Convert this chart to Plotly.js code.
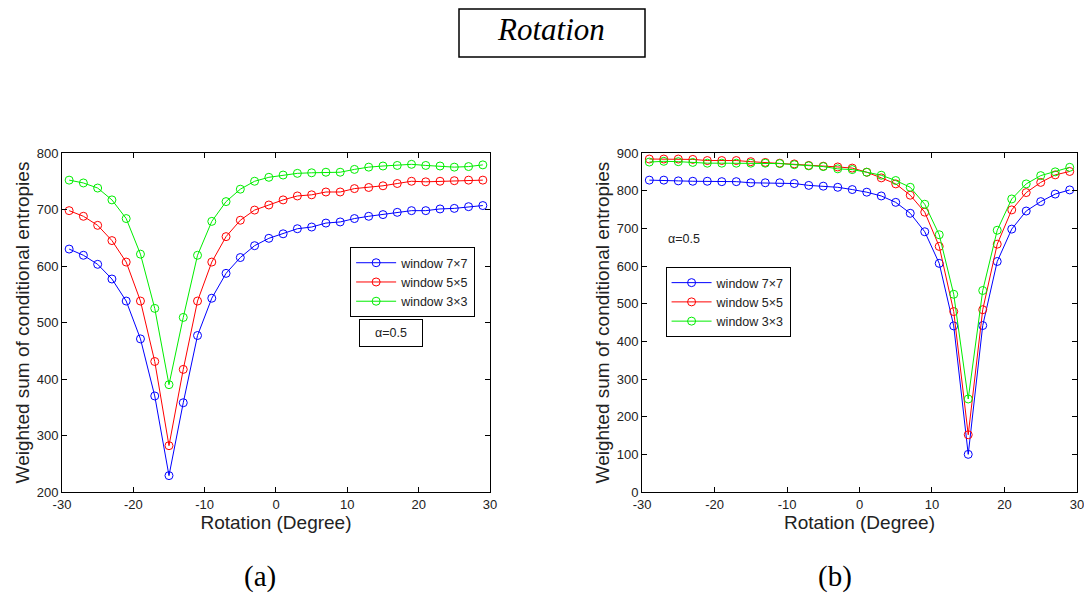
<!DOCTYPE html>
<html>
<head>
<meta charset="utf-8">
<script src="https://cdn.plot.ly/plotly-3.0.1.min.js"></script>
<style>html,body{margin:0;padding:0;background:#fff;}#chart{width:1084px;height:594px;}</style>
</head>
<body>
<div id="chart"></div>
<script>
const angles = [-29,-27,-25,-23,-21,-19,-17,-15,-13,-11,-9,-7,-5,-3,-1,1,3,5,7,9,11,13,15,17,19,21,23,25,27,29];
const seriesNames = ['window 7\u00d77','window 5\u00d75','window 3\u00d73'];
const seriesColors = ['#0000ff','#ff0000','#00ee00'];

// (a) left panel
const a_w7 = [630,619,603,577,538,471,370,229,358,477,543,587,615,636,649,657,666,669,676,678,684,688,691,695,698,698,701,702,705,707];
const a_w5 = [698,688,672,645,607,538,431,282,417,538,607,652,681,699,708,717,724,726,731,731,737,739,742,746,750,749,750,751,752,752];
const a_w3 = [752,747,738,717,684,621,525,390,509,619,679,714,736,750,757,761,764,765,766,766,771,775,777,778,780,778,777,775,776,779];

// (b) right panel
const b_w7 = [828,828,826,825,825,824,824,821,821,821,819,814,812,809,803,796,786,769,740,691,607,441,100,442,612,698,746,771,791,802];
const b_w5 = [884,884,884,883,880,880,880,877,875,873,871,867,865,863,860,849,834,818,788,743,652,479,152,484,658,749,795,822,842,851];
const b_w3 = [876,878,877,875,873,873,873,873,873,872,869,866,864,858,856,849,841,827,809,764,683,525,247,535,695,778,818,840,850,862];

const xTicks = [-30,-20,-10,0,10,20,30];
const xTickText = ['-30','-20','-10','0','10','20','30'];
const aYTicks = [200,300,400,500,600,700,800];
const bYTicks = [0,100,200,300,400,500,600,700,800,900];

const sans = 'Liberation Sans, Arial, sans-serif';
const serif = 'Liberation Serif, Times New Roman, serif';

function mk(y, i, xa, ya, leg) {
  return {
    x: angles, y: y, xaxis: xa, yaxis: ya, legend: leg,
    type: 'scatter', mode: 'lines+markers', name: seriesNames[i],
    line: {color: seriesColors[i], width: 1},
    marker: {symbol: 'circle-open', size: 8, color: seriesColors[i], line: {width: 1, color: seriesColors[i]}}
  };
}

const data = [
  mk(a_w7,0,'x','y','legend'), mk(a_w5,1,'x','y','legend'), mk(a_w3,2,'x','y','legend'),
  mk(b_w7,0,'x2','y2','legend2'), mk(b_w5,1,'x2','y2','legend2'), mk(b_w3,2,'x2','y2','legend2')
];

function xaxis(dom, anchor) {
  return {
    domain: dom, anchor: anchor, range: [-30, 30], tickvals: xTicks, ticktext: xTickText,
    ticks: 'inside', ticklen: 5, tickcolor: '#000', mirror: 'ticks',
    showline: true, linecolor: '#000', linewidth: 1, showgrid: false, zeroline: false,
    ticklabeloverflow: 'allow',
    tickfont: {family: sans, size: 13, color: '#222'},
    title: {text: 'Rotation (Degree)', font: {family: sans, size: 19, color: '#222'}, standoff: 2}
  };
}
function yaxis(dom, anchor, rng, tv) {
  return {
    domain: dom, anchor: anchor, range: rng, tickvals: tv,
    ticks: 'inside', ticklen: 5, tickcolor: '#000', mirror: 'ticks',
    showline: true, linecolor: '#000', linewidth: 1, showgrid: false, zeroline: false,
    ticklabeloverflow: 'allow',
    tickfont: {family: sans, size: 13, color: '#222'},
    title: {text: 'Weighted sum of conditional entropies', font: {family: sans, size: 19, color: '#222'}, standoff: 2}
  };
}

const yDom = [0.1717, 0.7424];
const layout = {
  width: 1084, height: 594,
  margin: {l: 0, r: 0, t: 0, b: 0},
  paper_bgcolor: '#fff', plot_bgcolor: '#fff',
  showlegend: true,
  xaxis: xaxis([0.0572, 0.4520], 'y'),
  yaxis: yaxis(yDom, 'x', [200, 800], aYTicks),
  xaxis2: xaxis([0.5923, 0.9935], 'y2'),
  yaxis2: yaxis(yDom, 'x2', [0, 900], bYTicks),
  legend: {x: 0.323, y: 0.584, xanchor: 'left', yanchor: 'top', bgcolor: '#fff',
    bordercolor: '#000', borderwidth: 1, font: {family: sans, size: 12.5, color: '#222'},
    itemwidth: 40, tracegroupgap: 0},
  legend2: {x: 0.614, y: 0.5505, xanchor: 'left', yanchor: 'top', bgcolor: '#fff',
    bordercolor: '#000', borderwidth: 1, font: {family: sans, size: 12.5, color: '#222'},
    itemwidth: 40, tracegroupgap: 0},
  shapes: [
    {type: 'rect', xref: 'paper', yref: 'paper', x0: 459/1084, x1: 645/1084, y0: 1 - 57/594, y1: 1 - 9/594,
     line: {color: '#000', width: 1.5}, fillcolor: 'rgba(0,0,0,0)'}
  ],
  annotations: [
    {text: '<i>Rotation</i>', xref: 'paper', yref: 'paper', x: 551/1084, y: 1 - 30/594, showarrow: false,
     xanchor: 'center', yanchor: 'middle', font: {family: serif, size: 31, color: '#000'}},
    {text: '(a)', xref: 'paper', yref: 'paper', x: 260/1084, y: 1 - 576/594, showarrow: false,
     xanchor: 'center', yanchor: 'middle', font: {family: serif, size: 29, color: '#000'}},
    {text: '(b)', xref: 'paper', yref: 'paper', x: 835/1084, y: 1 - 576/594, showarrow: false,
     xanchor: 'center', yanchor: 'middle', font: {family: serif, size: 29, color: '#000'}},
    {text: '\u03b1=0.5', xref: 'paper', yref: 'paper', x: 391/1084, y: 1 - 333/594, showarrow: false,
     xanchor: 'center', yanchor: 'middle', font: {family: sans, size: 12.5, color: '#222'},
     bordercolor: '#000', borderwidth: 1, borderpad: 6, bgcolor: '#fff', width: 50},
    {text: '\u03b1=0.5', xref: 'paper', yref: 'paper', x: 666/1084, y: 1 - 239/594, showarrow: false,
     xanchor: 'left', yanchor: 'middle', font: {family: sans, size: 12.5, color: '#222'}}
  ]
};

Plotly.newPlot('chart', data, layout, {displayModeBar: false, staticPlot: true});
</script>
</body>
</html>
